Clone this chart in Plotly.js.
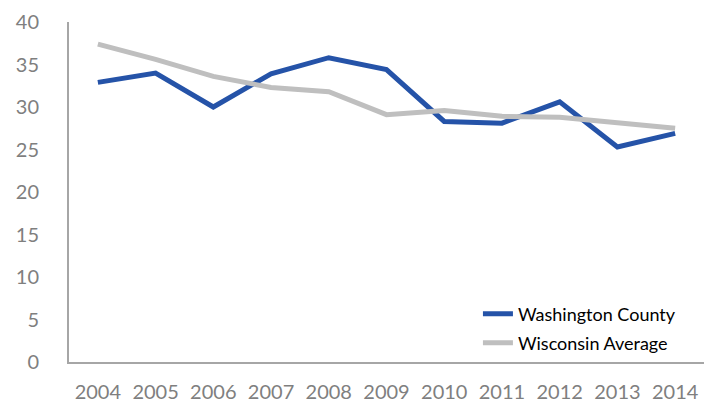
<!DOCTYPE html>
<html>
<head>
<meta charset="utf-8">
<script src="https://cdn.plot.ly/plotly-3.0.1.min.js"></script>
<style>html,body{margin:0;padding:0;background:#fff;}#chart{width:717px;height:402px;}</style>
</head>
<body>
<div id="chart"></div>
<script>
const years = ["2004","2005","2006","2007","2008","2009","2010","2011","2012","2013","2014"];
const washingtonCounty = [32.9, 34.0, 30.0, 33.9, 35.8, 34.4, 28.3, 28.1, 30.6, 25.3, 26.9];
const wisconsinAverage = [37.4, 35.6, 33.6, 32.3, 31.8, 29.1, 29.6, 28.9, 28.8, 28.2, 27.5];
const yTicks = [0, 5, 10, 15, 20, 25, 30, 35, 40];

const traces = [
  {x: years, y: washingtonCounty, type: "scatter", mode: "lines", name: "Washington County",
   legend: "legend", line: {color: "#2553A8", width: 5, shape: "linear"}},
  {x: years, y: wisconsinAverage, type: "scatter", mode: "lines", name: "Wisconsin Average",
   legend: "legend2", line: {color: "#BFBFBF", width: 5, shape: "linear"}}
];

const legendCommon = {xanchor: "left", yanchor: "middle", bgcolor: "rgba(0,0,0,0)",
  font: {color: "#000", size: 18, family: "Lato, 'Open Sans', sans-serif"}};

const layout = {
  width: 717, height: 402,
  margin: {l: 69, r: 13, t: 22, b: 40},
  paper_bgcolor: "#fff", plot_bgcolor: "#fff",
  font: {family: "Lato, 'Open Sans', sans-serif", color: "#7f7f7f", size: 20},
  showlegend: true,
  legend: Object.assign({x: 0.644, y: 0.141}, legendCommon),
  legend2: Object.assign({x: 0.644, y: 0.056}, legendCommon),
  xaxis: {type: "category", range: [-0.5, 10.5], showgrid: false, zeroline: false,
          showline: true, linecolor: "#a6a6a6", linewidth: 2, ticks: "", ticklabelstandoff: 11,
          fixedrange: true},
  yaxis: {range: [0, 40], tickvals: yTicks, showgrid: false, zeroline: false,
          showline: true, linecolor: "#a6a6a6", linewidth: 2, ticks: "", ticklabelstandoff: 24,
          fixedrange: true}
};

Plotly.newPlot("chart", traces, layout, {displayModeBar: false, staticPlot: true});
</script>
</body>
</html>
